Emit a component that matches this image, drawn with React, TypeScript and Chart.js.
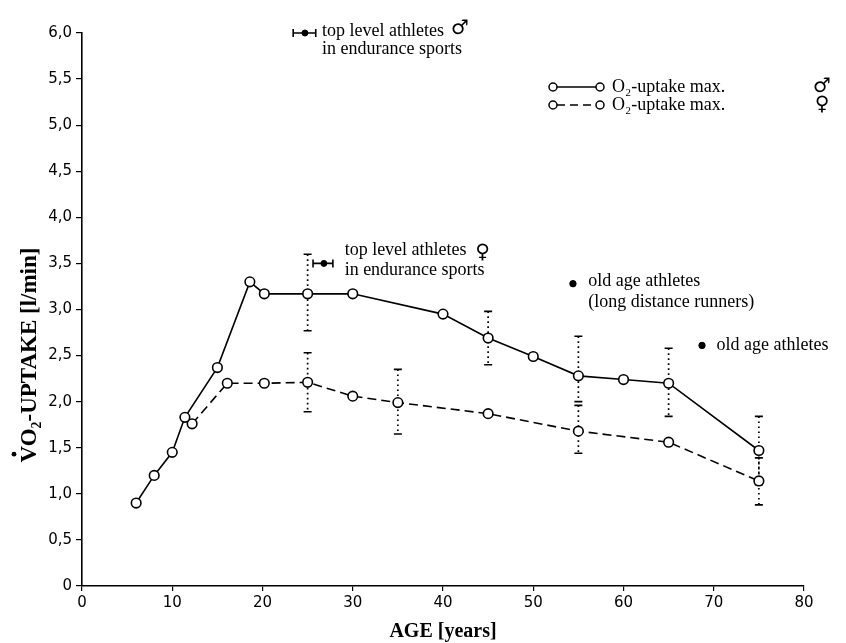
import React, { useEffect, useRef } from 'react';
import { Chart, registerables } from 'chart.js';
Chart.register(...registerables);

// ---- data ----
const maleAges = [6, 8, 10, 11.4, 15, 18.6, 20.2, 25, 30, 40, 45, 50, 55, 60, 65, 75];
const maleUptake = [0.9, 1.2, 1.45, 1.83, 2.37, 3.3, 3.17, 3.17, 3.17, 2.95, 2.69, 2.49, 2.28, 2.24, 2.2, 1.47];
const femaleAges = [12.2, 16.1, 20.2, 25, 30, 35, 45, 55, 65, 75];
const femaleUptake = [1.76, 2.2, 2.2, 2.21, 2.06, 1.99, 1.87, 1.68, 1.56, 1.14];

const maleErrAges = [25, 45, 55, 65, 75];
const maleErrHigh = [3.6, 2.98, 2.71, 2.58, 1.84];
const maleErrLow = [2.77, 2.4, 2.0, 1.84, 1.1];
const femaleErrAges = [25, 35, 55, 75];
const femaleErrHigh = [2.53, 2.35, 1.96, 1.39];
const femaleErrLow = [1.89, 1.65, 1.44, 0.88];

const topLevelAges = [24.7, 26.8];
const topLevelUptake = [6.0, 3.5];
const topLevelAgeLow = [23.4, 25.6];
const topLevelAgeHigh = [25.9, 27.8];

const oldAgeAges = [54.4, 68.7];
const oldAgeUptake = [3.28, 2.61];

const xTickValues = [0, 10, 20, 30, 40, 50, 60, 70, 80];
const yTickValues = [0, 0.5, 1, 1.5, 2, 2.5, 3, 3.5, 4, 4.5, 5, 5.5, 6];

const legendLabels = ['O\u2082-uptake max.', 'O\u2082-uptake max.'];
const legendSymbols = ['\u2642', '\u2640'];

const SERIF = '"Liberation Serif", "DejaVu Serif", serif';
const SANS = '"DejaVu Sans", sans-serif';

const annotationPlugin = {
  id: 'annotations',
  beforeDatasetsDraw(chart: any) {
    const { ctx } = chart;
    const x = chart.scales.x;
    const y = chart.scales.y;
    ctx.save();
    ctx.strokeStyle = '#000';
    const vbar = (age: number, lo: number, hi: number) => {
      const px = x.getPixelForValue(age);
      const p1 = y.getPixelForValue(hi);
      const p2 = y.getPixelForValue(lo);
      ctx.lineWidth = 1.7;
      ctx.setLineDash([1.7, 3.3]);
      ctx.beginPath();
      ctx.moveTo(px, p1);
      ctx.lineTo(px, p2);
      ctx.stroke();
      ctx.setLineDash([]);
      ctx.lineWidth = 1.6;
      ctx.beginPath();
      ctx.moveTo(px - 4, p1);
      ctx.lineTo(px + 4, p1);
      ctx.moveTo(px - 4, p2);
      ctx.lineTo(px + 4, p2);
      ctx.stroke();
    };
    maleErrAges.forEach((a, i) => vbar(a, maleErrLow[i], maleErrHigh[i]));
    femaleErrAges.forEach((a, i) => vbar(a, femaleErrLow[i], femaleErrHigh[i]));

    // horizontal bars of the top-level athletes
    topLevelAges.forEach((_, i) => {
      const py = y.getPixelForValue(topLevelUptake[i]);
      const xa = x.getPixelForValue(topLevelAgeLow[i]);
      const xb = x.getPixelForValue(topLevelAgeHigh[i]);
      ctx.lineWidth = 1.6;
      ctx.beginPath();
      ctx.moveTo(xa, py);
      ctx.lineTo(xb, py);
      ctx.moveTo(xa, py - 4);
      ctx.lineTo(xa, py + 4);
      ctx.moveTo(xb, py - 4);
      ctx.lineTo(xb, py + 4);
      ctx.stroke();
    });
    ctx.restore();
  },
  afterDraw(chart: any) {
    const { ctx } = chart;
    const x = chart.scales.x;
    const y = chart.scales.y;
    ctx.save();
    ctx.fillStyle = '#000';
    ctx.strokeStyle = '#000';
    ctx.textBaseline = 'middle';
    ctx.textAlign = 'left';

    const text = (age: number, val: number, s: string) => {
      ctx.font = `18px ${SERIF}`;
      ctx.fillText(s, x.getPixelForValue(age), y.getPixelForValue(val));
    };
    const sym = (px: number, py: number, s: string, size = 20) => {
      ctx.font = `bold ${size}px ${SANS}`;
      ctx.textAlign = 'center';
      ctx.fillText(s, px, py);
      ctx.textAlign = 'left';
    };

    // top level athletes (male)
    text(26.6, 6.02, 'top level athletes');
    ctx.font = `18px ${SERIF}`;
    const w = ctx.measureText('top level athletes').width;
    sym(x.getPixelForValue(26.6) + w + 16, y.getPixelForValue(6.05), legendSymbols[0]);
    text(26.6, 5.82, 'in endurance sports');

    // top level athletes (female)
    text(29.1, 3.64, 'top level athletes');
    sym(x.getPixelForValue(29.1) + w + 16, y.getPixelForValue(3.62), legendSymbols[1]);
    text(29.1, 3.43, 'in endurance sports');

    // old age athletes
    text(56.1, 3.31, 'old age athletes');
    text(56.1, 3.08, '(long distance runners)');
    text(70.3, 2.61, 'old age athletes');

    // legend
    const legendY = [87, 105];
    legendY.forEach((ly, i) => {
      const x1 = 553;
      const x2 = 600;
      ctx.lineWidth = 1.5;
      ctx.setLineDash(i === 0 ? [] : [8, 5]);
      ctx.beginPath();
      ctx.moveTo(x1 + 4, ly);
      ctx.lineTo(x2 - 4, ly);
      ctx.stroke();
      ctx.setLineDash([]);
      [x1, x2].forEach((cx) => {
        ctx.beginPath();
        ctx.arc(cx, ly, 4, 0, Math.PI * 2);
        ctx.fillStyle = '#fff';
        ctx.fill();
        ctx.stroke();
      });
      ctx.fillStyle = '#000';
      ctx.font = `18px ${SERIF}`;
      ctx.fillText(legendLabels[i], 612, ly);
      sym(822, ly, legendSymbols[i]);
    });

    // y-axis title
    ctx.save();
    ctx.translate(30, 355);
    ctx.rotate(-Math.PI / 2);
    ctx.font = `bold 23px ${SERIF}`;
    ctx.textAlign = 'center';
    const title = 'VO\u2082-UPTAKE [l/min]';
    const tw = ctx.measureText(title).width;
    ctx.fillText(title, 0, 0);
    const vw = ctx.measureText('V').width;
    ctx.beginPath();
    ctx.arc(-tw / 2 + vw / 2, -16, 2.4, 0, Math.PI * 2);
    ctx.fill();
    ctx.restore();

    ctx.restore();
  },
};

export default function App() {
  const ref = useRef<HTMLCanvasElement>(null);
  useEffect(() => {
    if (!ref.current) return;
    const pts = (xs: number[], ys: number[]) => xs.map((a, i) => ({ x: a, y: ys[i] }));
    const chart = new Chart(ref.current, {
      type: 'line',
      data: {
        datasets: [
          {
            label: 'male',
            data: pts(maleAges, maleUptake),
            borderColor: '#000',
            borderWidth: 1.6,
            pointRadius: 4.8,
            pointBackgroundColor: '#fff',
            pointBorderColor: '#000',
            pointBorderWidth: 1.6,
            tension: 0,
          },
          {
            label: 'female',
            data: pts(femaleAges, femaleUptake),
            borderColor: '#000',
            borderWidth: 1.6,
            borderDash: [9, 5],
            pointRadius: 4.8,
            pointBackgroundColor: '#fff',
            pointBorderColor: '#000',
            pointBorderWidth: 1.6,
            tension: 0,
          },
          {
            label: 'top level',
            data: pts(topLevelAges, topLevelUptake),
            showLine: false,
            clip: false,
            pointRadius: 3,
            pointBackgroundColor: '#000',
            pointBorderColor: '#000',
          },
          {
            label: 'old age',
            data: pts(oldAgeAges, oldAgeUptake),
            showLine: false,
            pointRadius: 3.2,
            pointBackgroundColor: '#000',
            pointBorderColor: '#000',
          },
        ],
      },
      options: {
        animation: false,
        responsive: false,
        devicePixelRatio: 1,
        layout: { padding: { top: 33, right: 42, left: 0, bottom: 0 } },
        plugins: { legend: { display: false }, tooltip: { enabled: false } },
        scales: {
          x: {
            type: 'linear',
            min: 0,
            max: 80,
            afterFit: (s: any) => {
              s.height = 57;
            },
            afterBuildTicks: (s: any) => {
              s.ticks = xTickValues.map((v) => ({ value: v }));
            },
            ticks: {
              color: '#000',
              font: { family: SANS, size: 15 },
              padding: 3,
              callback: (v: any) => String(v),
            },
            grid: { drawOnChartArea: false, drawTicks: true, tickLength: 5, color: '#000', lineWidth: 1.2 },
            border: { color: '#000', width: 1.6 },
          },
          y: {
            type: 'linear',
            min: 0,
            max: 6,
            afterFit: (s: any) => {
              s.width = 82;
            },
            afterBuildTicks: (s: any) => {
              s.ticks = yTickValues.map((v) => ({ value: v }));
            },
            ticks: {
              color: '#000',
              font: { family: SANS, size: 15 },
              padding: 4,
              callback: (v: any) => (v === 0 ? '0' : Number(v).toFixed(1).replace('.', ',')),
            },
            grid: { drawOnChartArea: false, drawTicks: true, tickLength: 6, color: '#000', lineWidth: 1.2 },
            border: { color: '#000', width: 1.6 },
          },
        },
      },
      plugins: [annotationPlugin],
    } as any);
    return () => chart.destroy();
  }, []);
  return (
    <div style={{ position: 'absolute', left: 0, top: 0, width: 846, height: 643, background: '#fff' }}>
      <canvas ref={ref} width={846} height={643} />
      <div
        style={{
          position: 'absolute',
          left: 0,
          width: 886,
          top: 618,
          textAlign: 'center',
          font: `bold 20px ${SERIF}`,
          lineHeight: '24px',
          pointerEvents: 'none',
        }}
      >
        AGE [years]
      </div>
    </div>
  );
}
